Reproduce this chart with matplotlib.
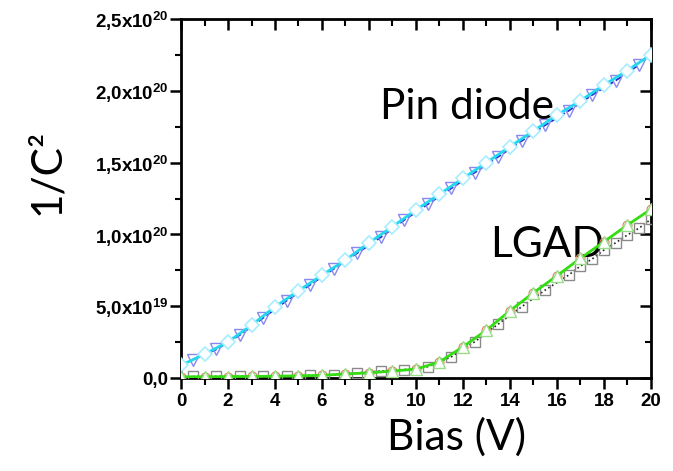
import numpy as np
import matplotlib.pyplot as plt
from matplotlib.ticker import MultipleLocator, FixedLocator, FixedFormatter

plt.rcParams['font.family'] = 'Liberation Sans'
plt.rcParams['font.weight'] = 'bold'
plt.rcParams['mathtext.fontset'] = 'custom'
plt.rcParams['mathtext.rm'] = 'Liberation Sans:bold'
plt.rcParams['mathtext.it'] = 'Liberation Sans:bold'
plt.rcParams['mathtext.bf'] = 'Liberation Sans:bold'

# Pin diode, cyan diamonds at integer bias
pin_x = [0, 1, 2, 3, 4, 5, 6, 7, 8, 9, 10, 11, 12, 13, 14, 15, 16, 17, 18, 19, 20]
pin_y = [0.09, 0.167, 0.253, 0.369, 0.497, 0.608, 0.717, 0.822, 0.942, 1.054, 1.17,
         1.28, 1.39, 1.50, 1.61, 1.72, 1.83, 1.93, 2.04, 2.14, 2.25]
# Pin diode, blue down triangles at half-integer bias
pin2_x = [0.5, 1.5, 2.5, 3.5, 4.5, 5.5, 6.5, 7.5, 8.5, 9.5, 10.5, 11.5, 12.5, 13.5,
          14.5, 15.5, 16.5, 17.5, 18.5, 19.5]
pin2_y = [0.13, 0.20, 0.30, 0.42, 0.54, 0.65, 0.76, 0.87, 0.98, 1.10, 1.21, 1.32,
          1.43, 1.54, 1.65, 1.76, 1.86, 1.97, 2.07, 2.18]

# LGAD, green triangles at integer bias
lgad_x = [0, 1, 2, 3, 4, 5, 6, 7, 8, 9, 10, 11, 12, 13, 14, 15, 16, 17, 18, 19, 20]
lgad_y = [0.010, 0.010, 0.011, 0.012, 0.014, 0.016, 0.020, 0.030, 0.037, 0.050, 0.063,
          0.113, 0.218, 0.334, 0.469, 0.594, 0.712, 0.834, 0.949, 1.065, 1.175]
# LGAD, grey squares
lgad2_x = [0.5, 1.5, 2.5, 3.5, 4.5, 5.5, 6.5, 7.5, 8.5, 9.5, 10.5, 11.5, 12.5, 13.5,
           14.5, 15.5, 16.5, 17, 17.5, 18, 18.5, 19, 19.5, 20]
lgad2_y = [0.012, 0.013, 0.014, 0.015, 0.017, 0.019, 0.021, 0.037, 0.050, 0.060, 0.080,
           0.148, 0.253, 0.376, 0.497, 0.613, 0.717, 0.780, 0.829, 0.891, 0.942, 0.996,
           1.044, 1.105]

yticks = [0, 0.5, 1.0, 1.5, 2.0, 2.5]
ylabels = ['0,0', '5,0x10$^{19}$', '1,0x10$^{20}$', '1,5x10$^{20}$', '2,0x10$^{20}$',
           '2,5x10$^{20}$']

fig = plt.figure(figsize=(6.73, 4.71), dpi=100)
ax = fig.add_axes([0.269, 0.197, 0.698, 0.763])

ax.plot(pin2_x, pin2_y, color='#2a2ad0', ls='--', lw=1.3, marker='v', ms=8,
        mfc='none', mec='#8888f0', mew=1.0, zorder=3)
ax.plot(pin_x, pin_y, color='#22d8ee', ls='-', lw=2.0, marker='D', ms=7,
        mfc='white', mec='#a8ecff', mew=1.2, zorder=4)

ax.plot(lgad2_x, lgad2_y, color='#222222', ls=':', lw=1.2, marker='s', ms=6.5,
        mfc='none', mec='#8a8a8a', mew=1.0, zorder=3)
ax.plot(lgad_x, lgad_y, color='none', marker='o', ms=6.5, mfc='none',
        mec='#e08060', mew=0.8, zorder=4)
ax.plot(lgad_x, lgad_y, color='#33dd11', ls='-', lw=2.0, marker='^', ms=8,
        mfc='white', mec='#99dd88', mew=1.0, zorder=5)

ax.set_xlim(0, 20)
ax.set_ylim(0, 2.5)

ax.xaxis.set_major_locator(MultipleLocator(2))
ax.xaxis.set_minor_locator(MultipleLocator(1))
ax.yaxis.set_major_locator(FixedLocator(yticks))
ax.yaxis.set_major_formatter(FixedFormatter(ylabels))
ax.yaxis.set_minor_locator(MultipleLocator(0.25))

ax.tick_params(axis='x', which='major', direction='out', length=8, width=1.8,
               labelsize=13.5, pad=3, top=True)
ax.tick_params(axis='x', which='minor', direction='out', length=5, width=1.5, top=True)
ax.tick_params(axis='y', which='major', direction='out', length=8, width=1.8,
               labelsize=13.5, pad=1, right=True)
ax.tick_params(axis='y', which='minor', direction='out', length=4, width=1.5, right=True)

# top/right ticks point inward
for t in ax.xaxis.get_major_ticks() + ax.xaxis.get_minor_ticks():
    t.tick2line.set_marker(3)
for t in ax.yaxis.get_major_ticks() + ax.yaxis.get_minor_ticks():
    t.tick2line.set_marker(0)

for s in ax.spines.values():
    s.set_linewidth(2.0)

big = dict(family='Lato', fontweight='normal', fontsize=30.5)
fig.text(0.070, 0.635, '1/C²', rotation=90, ha='center', va='center', **big)
fig.text(0.678, 0.072, 'Bias (V)', ha='center', va='center', **big)
ax.text(8.45, 1.89, 'Pin diode', ha='left', va='center', **big)
ax.text(13.15, 0.93, 'LGAD', ha='left', va='center', **big)

fig.savefig('out.png', dpi=100)
